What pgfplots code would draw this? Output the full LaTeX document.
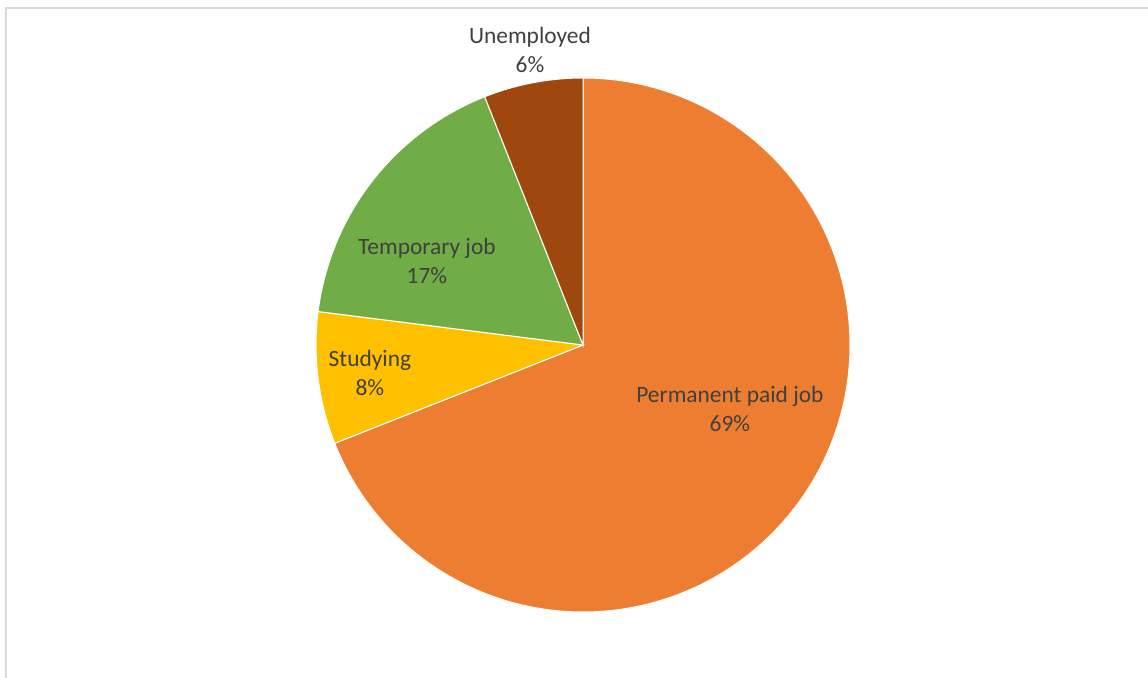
\documentclass[border=0pt]{standalone}
\usepackage{pgfplots}
\pgfplotsset{compat=1.18}
\usepgfplotslibrary{polar}
\usepackage{fontspec}
\setmainfont{Carlito}
\definecolor{cPerm}{HTML}{ED7D31}
\definecolor{cStud}{HTML}{FFC000}
\definecolor{cTemp}{HTML}{70AD47}
\definecolor{cUnem}{HTML}{9E480E}
\definecolor{lbl}{HTML}{404040}
\definecolor{frame}{HTML}{D9D9D9}
\tikzset{lab/.style={font=\fontsize{23.5}{29}\selectfont, text=lbl, align=center, inner sep=0pt}}
\begin{document}
\begin{tikzpicture}[x=1bp,y=1bp]
\useasboundingbox (0,0) rectangle (1148,678);
\begin{scope}
\clip (0,0) rectangle (1148,678);
\draw[frame, line width=1.5bp] (6,-10) -- (6,670) -- (1160,670);
\end{scope}
\begin{polaraxis}[
  at={(583bp,333bp)}, anchor=center,
  scale only axis, width=534bp, height=534bp,
  ymin=0, ymax=1, hide axis, clip=false,
]
% percentages: Permanent 69, Studying 8, Temporary 17, Unemployed 6 (clockwise from 12 o'clock)
\addplot[fill=cPerm, draw=white, line width=1bp, domain=-158.4:90, samples=180] {1} -- (axis cs:0,0) -- cycle;
\addplot[fill=cStud, draw=white, line width=1bp, domain=-187.2:-158.4, samples=40] {1} -- (axis cs:0,0) -- cycle;
\addplot[fill=cTemp, draw=white, line width=1bp, domain=-248.4:-187.2, samples=60] {1} -- (axis cs:0,0) -- cycle;
\addplot[fill=cUnem, draw=white, line width=1bp, domain=-270:-248.4, samples=30] {1} -- (axis cs:0,0) -- cycle;
\node[lab] at (axis cs:-23.5,0.600) {Permanent paid job\\69\%};
\node[lab] at (axis cs:-172.5,0.805) {Studying\\8\%};
\node[lab] at (axis cs:151.7,0.664) {Temporary job\\17\%};
\node[lab] at (axis cs:100.2,1.122) {Unemployed\\6\%};
\end{polaraxis}
\end{tikzpicture}
\end{document}
